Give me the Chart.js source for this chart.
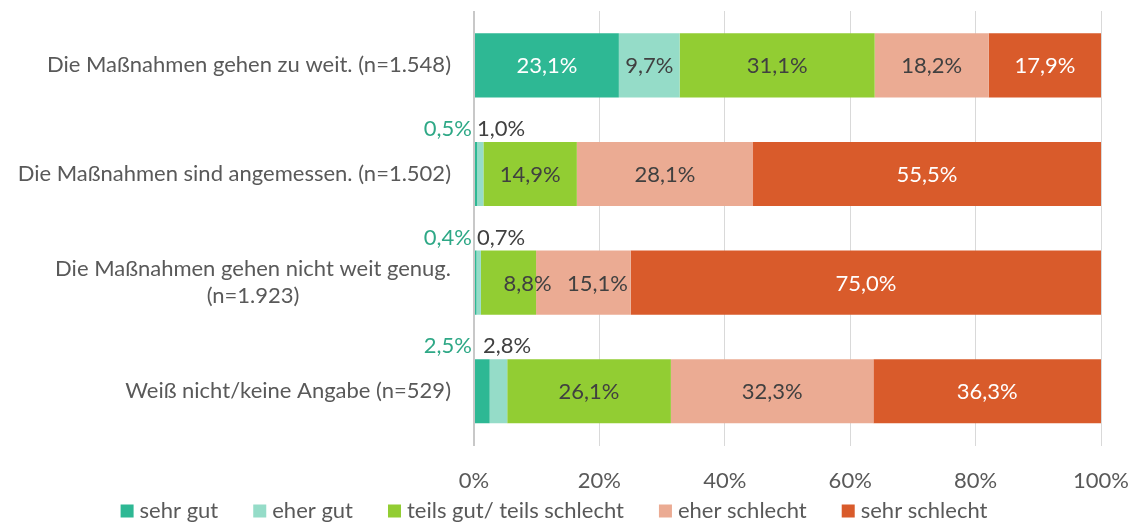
<!DOCTYPE html>
<html><head><meta charset="utf-8">
<script src="https://cdn.jsdelivr.net/npm/chart.js@4.4.1/dist/chart.umd.min.js"></script>
<style>html,body{margin:0;padding:0;background:#fff;} #wrap{width:1134px;height:522px;position:relative;}</style>
</head><body><div id="wrap"><canvas id="c"></canvas></div>
<script>
const categories = [
  'Die Maßnahmen gehen zu weit. (n=1.548)',
  'Die Maßnahmen sind angemessen. (n=1.502)',
  ['Die Maßnahmen gehen nicht weit genug.', '(n=1.923)'],
  'Weiß nicht/keine Angabe (n=529)'
];
const seriesNames = ['sehr gut', 'eher gut', 'teils gut/ teils schlecht', 'eher schlecht', 'sehr schlecht'];
const sehrGut      = [23.1, 0.5, 0.4, 2.5];
const eherGut      = [9.7, 1.0, 0.7, 2.8];
const teilsTeils   = [31.1, 14.9, 8.8, 26.1];
const eherSchlecht = [18.2, 28.1, 15.1, 32.3];
const sehrSchlecht = [17.9, 55.5, 75.0, 36.3];
const xTickValues  = [0, 20, 40, 60, 80, 100];

const seriesValues = [sehrGut, eherGut, teilsTeils, eherSchlecht, sehrSchlecht];
const colors = ['#2EB894', '#95DCC8', '#92CD33', '#EBAB93', '#D95B2B'];
const FONT = 'Lato';
const FS = 22;
const TXT = '#595959';

const labelPlugin = {
  id: 'valueLabels',
  afterDatasetsDraw(chart) {
    const ctx = chart.ctx;
    const nudges = {'2-2': 19, '3-2': 14, '1-3': 6};
    ctx.save();
    ctx.font = FS + 'px ' + FONT;
    ctx.textBaseline = 'middle';
    chart.data.datasets.forEach((ds, di) => {
      const meta = chart.getDatasetMeta(di);
      meta.data.forEach((bar, i) => {
        const v = ds.data[i];
        const txt = v.toFixed(1).replace('.', ',') + '%';
        const p = bar.getProps(['x', 'base', 'y', 'height'], true);
        let tx, ty, color, align;
        if (v < 5) {
          ty = p.y - p.height / 2 - 13;
          if (di === 0) { tx = chart.chartArea.left - 2; align = 'right'; color = '#2EA886'; }
          else { tx = chart.chartArea.left + 3; align = 'left'; color = '#404040'; }
        } else {
          tx = (p.x + p.base) / 2; ty = p.y + 1; align = 'center';
          color = (di === 0 || di === 4) ? '#FFFFFF' : '#404040';
        }
        tx += nudges[di + '-' + i] || 0;
        ctx.textAlign = align;
        ctx.fillStyle = color;
        ctx.fillText(txt, tx, ty);
      });
    });
    ctx.restore();
  },
  afterDraw(chart) {
    const ctx = chart.ctx;
    const yScale = chart.scales.y;
    ctx.save();
    ctx.font = FS + 'px ' + FONT;
    ctx.fillStyle = TXT;
    ctx.textBaseline = 'middle';
    const right = chart.chartArea.left - 23;
    chart.data.labels.forEach((lab, i) => {
      const lines = Array.isArray(lab) ? lab : [lab];
      const cy = yScale.getPixelForValue(i);
      const lh = 27;
      const w = Math.max(...lines.map(l => ctx.measureText(l).width));
      const cx = right - w / 2;
      ctx.textAlign = 'center';
      lines.forEach((l, k) => {
        ctx.fillText(l, cx, cy + (k - (lines.length - 1) / 2) * lh);
      });
    });
    // legend
    const box = 13, gap = 6, spacing = 35;
    const items = chart.data.datasets.map(d => ({t: d.label, c: d.backgroundColor, w: ctx.measureText(d.label).width}));
    const total = items.reduce((s, it) => s + box + gap + it.w, 0) + spacing * (items.length - 1);
    let x = 554 - total / 2;
    const ly = 511;
    ctx.textAlign = 'left';
    items.forEach(it => {
      ctx.fillStyle = it.c;
      ctx.fillRect(x, ly - box / 2, box, box);
      ctx.fillStyle = TXT;
      ctx.fillText(it.t, x + box + gap, ly);
      x += box + gap + it.w + spacing;
    });
    ctx.restore();
  }
};

new Chart(document.getElementById('c'), {
  type: 'bar',
  data: {
    labels: categories,
    datasets: seriesNames.map((n, k) => ({
      label: n,
      data: seriesValues[k],
      backgroundColor: colors[k],
      borderWidth: 0,
      barPercentage: 0.59,
      categoryPercentage: 1
    }))
  },
  options: {
    indexAxis: 'y',
    responsive: true,
    maintainAspectRatio: false,
    animation: false,
    devicePixelRatio: 1,
    layout: {padding: {top: 11, right: 33, bottom: 6, left: 0}},
    plugins: {legend: {display: false}, tooltip: {enabled: false}},
    scales: {
      x: {
        stacked: true, min: 0, max: 100,
        afterBuildTicks: s => { s.ticks = xTickValues.map(v => ({value: v})); },
        afterFit: s => { s.paddingLeft = 0; s.paddingRight = 0; },
        ticks: {callback: v => v + '%', color: TXT, font: {family: FONT, size: FS}, padding: 22, maxRotation: 0},
        grid: {color: c => c.tick && c.tick.value === 0 ? '#C8C8C8' : '#D9D9D9', lineWidth: c => c.tick && c.tick.value === 0 ? 2 : 1, drawTicks: false},
        border: {display: false}
      },
      y: {
        stacked: true,
        ticks: {display: false},
        grid: {display: false},
        border: {display: false},
        afterFit: s => { s.width = 474; }
      }
    }
  },
  plugins: [labelPlugin]
});
</script>
</body></html>
